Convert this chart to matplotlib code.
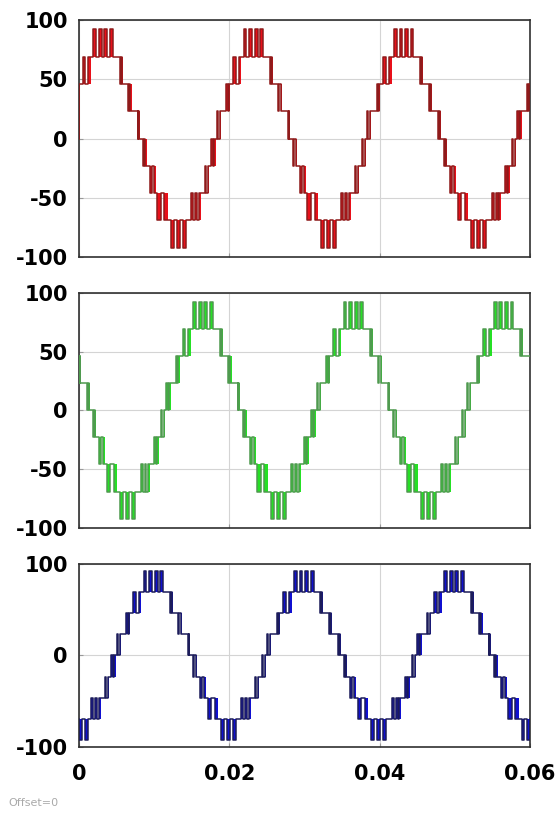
import matplotlib
matplotlib.use("Agg")
import matplotlib.pyplot as plt

plt.rcParams["axes.unicode_minus"] = False

# level step of the multilevel staircase (volts)
step = 23

# each band: (t_start, t_end, pulse level, level after band, number of pulse bars)
# levels are in steps of `step`
red_start = 0
red_bands = [
    (0.0000, 0.0001, 2, 2, 1),
    (0.0005, 0.0016, 3, 3, 2), (0.0019, 0.0045, 4, 3, 4), (0.0054, 0.0058, 2, 2, 2),
    (0.0065, 0.0070, 1, 1, 2), (0.0078, 0.0081, 0, 0, 2), (0.0085, 0.0090, -1, -1, 2),
    (0.0094, 0.0102, -2, -2, 2), (0.0104, 0.0118, -3, -3, 2), (0.0122, 0.0142, -4, -3, 3),
    (0.0149, 0.0162, -2, -2, 3), (0.0167, 0.0173, -1, -1, 2), (0.0176, 0.0182, 0, 0, 2),
    (0.0183, 0.0189, 1, 1, 2), (0.0196, 0.0201, 2, 2, 2),
    (0.0205, 0.0216, 3, 3, 2), (0.0219, 0.0245, 4, 3, 4), (0.0254, 0.0258, 2, 2, 2),
    (0.0265, 0.0270, 1, 1, 2), (0.0278, 0.0281, 0, 0, 2), (0.0285, 0.0290, -1, -1, 2),
    (0.0294, 0.0302, -2, -2, 2), (0.0304, 0.0318, -3, -3, 2), (0.0322, 0.0342, -4, -3, 3),
    (0.0349, 0.0362, -2, -2, 3), (0.0367, 0.0373, -1, -1, 2), (0.0376, 0.0382, 0, 0, 2),
    (0.0383, 0.0389, 1, 1, 2), (0.0396, 0.0401, 2, 2, 2),
    (0.0405, 0.0416, 3, 3, 2), (0.0419, 0.0445, 4, 3, 4), (0.0454, 0.0458, 2, 2, 2),
    (0.0465, 0.0470, 1, 1, 2), (0.0478, 0.0481, 0, 0, 2), (0.0485, 0.0490, -1, -1, 2),
    (0.0494, 0.0502, -2, -2, 2), (0.0504, 0.0518, -3, -3, 2), (0.0522, 0.0542, -4, -3, 3),
    (0.0549, 0.0562, -2, -2, 3), (0.0567, 0.0573, -1, -1, 2), (0.0576, 0.0582, 0, 0, 2),
    (0.0583, 0.0589, 1, 1, 2), (0.0596, 0.0600, 2, 2, 2),
]

green_start = 2
green_bands = [
    (0.0000, 0.0003, 1, 1, 2), (0.0011, 0.0014, 0, 0, 2), (0.0018, 0.0023, -1, -1, 2),
    (0.0027, 0.0035, -2, -2, 2), (0.0037, 0.0051, -3, -3, 2), (0.0055, 0.0075, -4, -3, 3),
    (0.0082, 0.0095, -2, -2, 3), (0.0100, 0.0106, -1, -1, 2), (0.0109, 0.0115, 0, 0, 2),
    (0.0116, 0.0122, 1, 1, 2), (0.0129, 0.0134, 2, 2, 2), (0.0138, 0.0149, 3, 3, 2),
    (0.0152, 0.0178, 4, 3, 4), (0.0187, 0.0191, 2, 2, 2),
    (0.0198, 0.0203, 1, 1, 2), (0.0211, 0.0214, 0, 0, 2), (0.0218, 0.0223, -1, -1, 2),
    (0.0227, 0.0235, -2, -2, 2), (0.0237, 0.0251, -3, -3, 2), (0.0255, 0.0275, -4, -3, 3),
    (0.0282, 0.0295, -2, -2, 3), (0.0300, 0.0306, -1, -1, 2), (0.0309, 0.0315, 0, 0, 2),
    (0.0316, 0.0322, 1, 1, 2), (0.0329, 0.0334, 2, 2, 2), (0.0338, 0.0349, 3, 3, 2),
    (0.0352, 0.0378, 4, 3, 4), (0.0387, 0.0391, 2, 2, 2),
    (0.0398, 0.0403, 1, 1, 2), (0.0411, 0.0414, 0, 0, 2), (0.0418, 0.0423, -1, -1, 2),
    (0.0427, 0.0435, -2, -2, 2), (0.0437, 0.0451, -3, -3, 2), (0.0455, 0.0475, -4, -3, 3),
    (0.0482, 0.0495, -2, -2, 3), (0.0500, 0.0506, -1, -1, 2), (0.0509, 0.0515, 0, 0, 2),
    (0.0516, 0.0522, 1, 1, 2), (0.0529, 0.0534, 2, 2, 2), (0.0538, 0.0549, 3, 3, 2),
    (0.0552, 0.0578, 4, 3, 4), (0.0587, 0.0591, 2, 2, 2),
]

blue_start = -3
blue_bands = [
    (0.0000, 0.0012, -4, -3, 2), (0.0016, 0.0029, -2, -2, 3), (0.0034, 0.0040, -1, -1, 2),
    (0.0043, 0.0049, 0, 0, 2), (0.0050, 0.0056, 1, 1, 2), (0.0063, 0.0068, 2, 2, 2),
    (0.0072, 0.0083, 3, 3, 2), (0.0086, 0.0112, 4, 3, 4), (0.0121, 0.0125, 2, 2, 2),
    (0.0132, 0.0137, 1, 1, 2), (0.0145, 0.0148, 0, 0, 2), (0.0152, 0.0157, -1, -1, 2),
    (0.0161, 0.0169, -2, -2, 2), (0.0171, 0.0185, -3, -3, 2), (0.0189, 0.0209, -4, -3, 3),
    (0.0216, 0.0229, -2, -2, 3), (0.0234, 0.0240, -1, -1, 2), (0.0243, 0.0249, 0, 0, 2),
    (0.0250, 0.0256, 1, 1, 2), (0.0263, 0.0268, 2, 2, 2), (0.0272, 0.0283, 3, 3, 2),
    (0.0286, 0.0312, 4, 3, 4), (0.0321, 0.0325, 2, 2, 2), (0.0332, 0.0337, 1, 1, 2),
    (0.0345, 0.0348, 0, 0, 2), (0.0352, 0.0357, -1, -1, 2), (0.0361, 0.0369, -2, -2, 2),
    (0.0371, 0.0385, -3, -3, 2), (0.0389, 0.0409, -4, -3, 3), (0.0416, 0.0429, -2, -2, 3),
    (0.0434, 0.0440, -1, -1, 2), (0.0443, 0.0449, 0, 0, 2), (0.0450, 0.0456, 1, 1, 2),
    (0.0463, 0.0468, 2, 2, 2), (0.0472, 0.0483, 3, 3, 2), (0.0486, 0.0512, 4, 3, 4),
    (0.0521, 0.0525, 2, 2, 2), (0.0532, 0.0537, 1, 1, 2), (0.0545, 0.0548, 0, 0, 2),
    (0.0552, 0.0557, -1, -1, 2), (0.0561, 0.0569, -2, -2, 2), (0.0571, 0.0585, -3, -3, 2),
    (0.0589, 0.0600, -4, -3, 2),
]

x_ticks = [0, 0.02, 0.04, 0.06]
x_labels = ["0", "0.02", "0.04", "0.06"]


def build(start, bands, t_end=0.06):
    ts = [0.0]
    ys = [start * step]
    bars = []
    cur = start
    for t0, t1, pulse, after, n in bands:
        w = (t1 - t0) / (2 * n - 1)
        for k in range(2 * n - 1):
            a = t0 + k * w
            if k % 2 == 0:
                ts.append(a)
                ys.append(pulse * step)
                bars.append((a, w, cur * step, (pulse - cur) * step))
            else:
                ts.append(a)
                ys.append(cur * step)
        ts.append(t1)
        ys.append(after * step)
        cur = after
    ts.append(t_end)
    ys.append(cur * step)
    return ts, ys, bars


def draw(ax, start, bands, fill_color, line_color):
    ts, ys, bars = build(start, bands)
    ax.bar([b[0] for b in bars], [b[3] for b in bars], width=[b[1] for b in bars],
           bottom=[b[2] for b in bars], align="edge", color=fill_color,
           linewidth=0, zorder=2)
    ax.plot(ts, ys, drawstyle="steps-post", color=line_color, lw=1.1, zorder=3)


fig = plt.figure(figsize=(5.57, 8.16), dpi=100)
ax1 = fig.add_axes([0.1418, 0.685, 0.8097, 0.2905])
ax2 = fig.add_axes([0.1418, 0.353, 0.8097, 0.288])
ax3 = fig.add_axes([0.1418, 0.0846, 0.8097, 0.2242])

draw(ax1, red_start, red_bands, "#e8101a", "#8e1a1a")
draw(ax2, green_start, green_bands, "#25e025", "#4f9a4f")
draw(ax3, blue_start, blue_bands, "#1010d0", "#1c1c5a")

for ax in (ax1, ax2, ax3):
    ax.set_xlim(0, 0.06)
    ax.set_ylim(-100, 100)
    ax.set_xticks(x_ticks)
    ax.grid(True, color="#d4d4d4", lw=0.8, zorder=0)
    ax.tick_params(direction="in", length=3, color="#999999", pad=8)
    for s in ax.spines.values():
        s.set_color("#303030")
        s.set_linewidth(1.2)
    ax.set_axisbelow(True)

for ax in (ax1, ax2):
    ax.set_yticks([-100, -50, 0, 50, 100])
    ax.set_xticklabels([])
ax3.set_yticks([-100, 0, 100])
ax3.set_xticklabels(x_labels)
ax3.tick_params(axis="x", pad=12)

for ax in (ax1, ax2, ax3):
    for lab in ax.get_xticklabels() + ax.get_yticklabels():
        lab.set_fontsize(15)
        lab.set_fontweight("bold")

fig.text(0.015, 0.016, "Offset=0", fontsize=8, color="#aaaaaa", va="center")

fig.savefig("out.png", dpi=100)
